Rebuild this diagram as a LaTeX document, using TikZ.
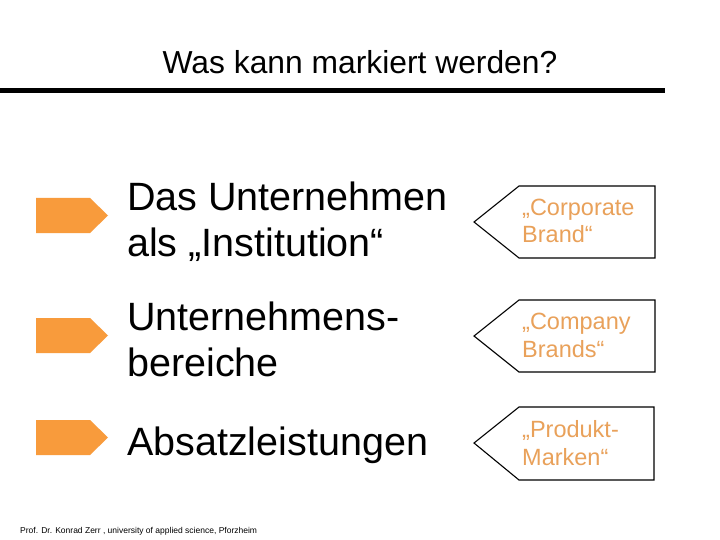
\documentclass[tikz,border=0pt]{standalone}
\usepackage{fontspec}
\setmainfont{Liberation Sans}
\definecolor{arroworange}{HTML}{F89B3C}
\definecolor{labelorange}{HTML}{E9A15A}
\begin{document}
\begin{tikzpicture}[x=1pt,y=-1pt,
  titletext/.style={inner sep=0pt,anchor=base,font=\fontsize{31.8}{36}\selectfont},
  maintext/.style={inner sep=0pt,anchor=base west,font=\fontsize{39.5}{46}\selectfont},
  labeltext/.style={inner sep=0pt,anchor=base west,text=labelorange,font=\fontsize{23.5}{27}\selectfont},
  foottext/.style={inner sep=0pt,anchor=base west,font=\fontsize{8.5}{10}\selectfont},
  pointer/.style={fill=arroworange,draw=none},
  tagbox/.style={draw=black,line width=1.1pt,fill=white,line join=miter}]
\useasboundingbox (0,0) rectangle (720,540);
\fill[white] (0,0) rectangle (720,540);
% title and rule
\node[titletext] (title) at (360,74) {Was kann markiert werden?};
\coordinate (ruleL) at (0,90.5);
\coordinate (ruleR) at (665,90.5);
\draw[line width=5pt] (ruleL) -- (ruleR);
% orange pointers
\foreach \n/\c in {1/215.5,2/335.5,3/437.5}{
  \fill[pointer] (36,\c-17.5) -- (90,\c-17.5) -- (108,\c) -- (90,\c+17.5) -- (36,\c+17.5) -- cycle;
}
% main texts
\node[maintext] (t1a) at (127,211) {Das Unternehmen};
\node[maintext] (t1b) at (127,256) {als „Institution“};
\node[maintext] (t2a) at (127,330) {Unternehmens-};
\node[maintext] (t2b) at (127,376) {bereiche};
\node[maintext] (t3a) at (127,455) {Absatzleistungen};
% tag boxes
\draw[tagbox] (474,222) -- (519,186) -- (655,186) -- (655,258) -- (519,258) -- cycle;
\draw[tagbox] (474,336) -- (519,300) -- (655,300) -- (655,372) -- (519,372) -- cycle;
\draw[tagbox] (474,443) -- (519,407) -- (654,407) -- (654,480) -- (519,480) -- cycle;
% labels
\node[labeltext] (l1a) at (522,215) {„Corporate};
\node[labeltext] (l1b) at (522,243) {Brand“};
\node[labeltext] (l2a) at (522,329) {„Company};
\node[labeltext] (l2b) at (522,357) {Brands“};
\node[labeltext] (l3a) at (522,437) {„Produkt-};
\node[labeltext] (l3b) at (522,465) {Marken“};
% footer
\node[foottext] (foot) at (20,533) {Prof. Dr. Konrad Zerr , university of applied science, Pforzheim};
\end{tikzpicture}
\end{document}
